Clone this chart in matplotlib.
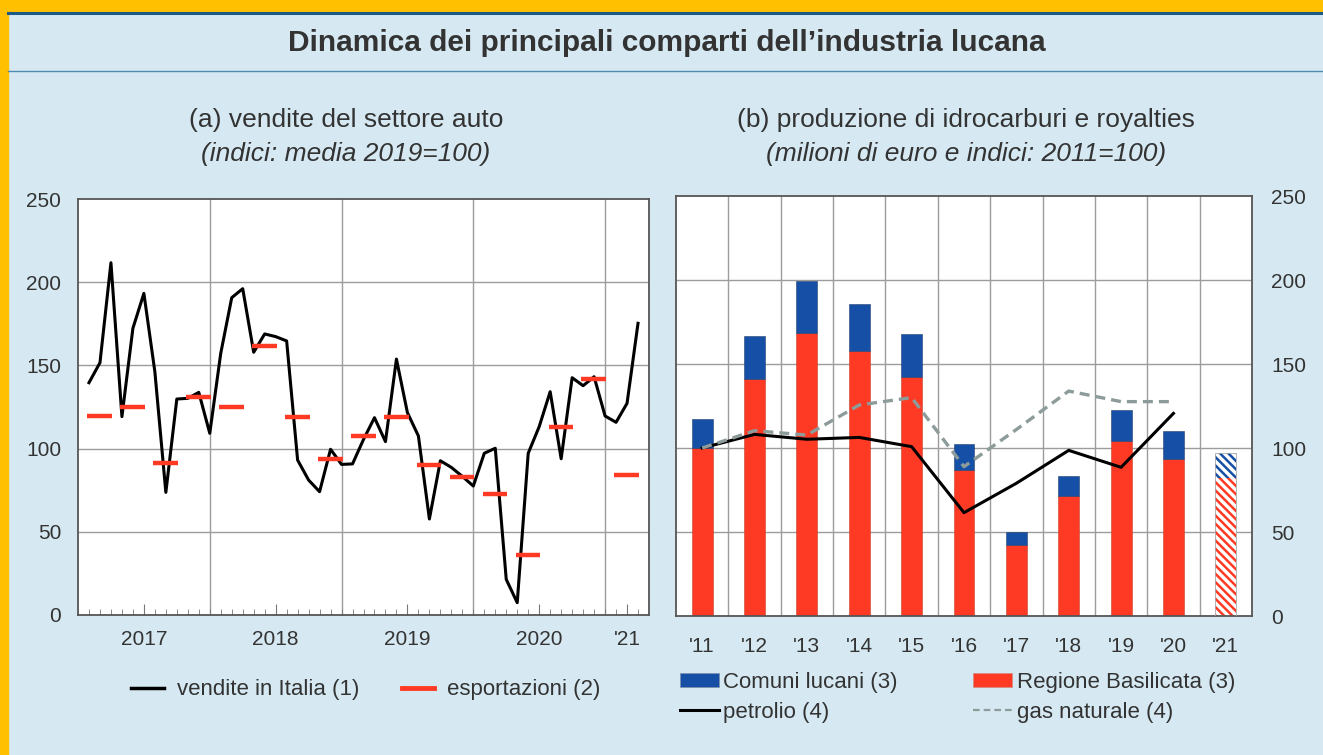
import matplotlib
matplotlib.use("Agg")
import matplotlib.pyplot as plt
from matplotlib.patches import Rectangle, Patch
from matplotlib.lines import Line2D
import numpy as np

plt.rcParams["font.family"] = ["Liberation Sans", "DejaVu Sans"]
plt.rcParams["hatch.linewidth"] = 1.8

# (a) vendite del settore auto, mensili gen 2017 - mar 2021
vendite_italia = [139.6, 151.6, 211.7, 119.2, 172.3, 193.3, 146.2, 73.7, 129.8, 130.2,
                  133.8, 109.2, 157.3, 190.7, 196.1, 157.9, 168.9, 167.3, 164.7, 93.1,
                  81.1, 74.1, 99.6, 90.5, 90.8, 105.5, 118.6, 104.2, 153.8, 121.6,
                  107.6, 57.7, 92.7, 88.7, 83.3, 77.5, 97.2, 100.2, 21.4, 7.4,
                  97.2, 113.2, 134.2, 93.9, 142.6, 137.8, 143.2, 119.6, 115.8, 127.2,
                  175.3]
# esportazioni, trimestrali T1 2017 - T1 2021
esportazioni = [119.8, 124.8, 91.1, 131.2, 125.2, 161.9, 119.2, 93.6, 107.8, 118.8,
                90.1, 82.7, 72.9, 36.3, 113.2, 141.8, 84.1]
anni_a = ["2017", "2018", "2019", "2020", "'21"]

# (b) produzione di idrocarburi e royalties
anni_b = ["'11", "'12", "'13", "'14", "'15", "'16", "'17", "'18", "'19", "'20", "'21"]
regione = [100.2, 141.3, 168.7, 157.9, 142.3, 86.9, 42.5, 71.4, 104.0, 93.3, 82.1]
comuni = [16.9, 25.4, 30.5, 27.8, 25.4, 15.7, 7.3, 12.1, 18.6, 16.8, 14.7]
petrolio = [100.0, 108.1, 105.2, 106.3, 100.8, 61.5, 79.0, 98.6, 88.5, 120.6]
gas_naturale = [100.0, 110.3, 107.7, 125.6, 130.0, 88.9, 111.0, 133.9, 127.6, 127.6]

RED = "#ff3a24"
BLUE = "#1650a6"
BG = "#d6e9f2"
TXT = "#333333"
GRID = "#9c9c9c"

W, H = 1323, 755
fig = plt.figure(figsize=(W / 100, H / 100), dpi=100, facecolor=BG)


def fx(px):
    return px / W


def fy(py):
    return 1 - py / H


# cornice
fig.patches.append(Rectangle((0, 0), fx(8), 1, transform=fig.transFigure,
                             color="#ffc000", zorder=0))
fig.patches.append(Rectangle((0, fy(11)), 1, 11 / H, transform=fig.transFigure,
                             color="#ffc000", zorder=0))
fig.add_artist(Line2D([fx(8), 1], [fy(13), fy(13)], color="#1b5a86", lw=2.2))
fig.add_artist(Line2D([fx(8), 1], [fy(71), fy(71)], color="#4f89ad", lw=1.0))

fig.text(fx(667), fy(43), "Dinamica dei principali comparti dell\u2019industria lucana",
         ha="center", va="center", fontsize=21.5, fontweight="bold", color=TXT)

fig.text(fx(346), fy(120), "(a) vendite del settore auto", ha="center", va="center",
         fontsize=19, color=TXT)
fig.text(fx(346), fy(154), "(indici: media 2019=100)", ha="center", va="center",
         fontsize=19, style="italic", color=TXT)
fig.text(fx(966), fy(120), "(b) produzione di idrocarburi e royalties", ha="center",
         va="center", fontsize=19, color=TXT)
fig.text(fx(966), fy(154), "(milioni di euro e indici: 2011=100)", ha="center",
         va="center", fontsize=19, style="italic", color=TXT)

# ---- pannello (a)
ax1 = fig.add_axes([fx(78), fy(615), fx(649 - 78), (615 - 199) / H])
ax1.set_facecolor("white")
mesi = np.arange(1, len(vendite_italia) + 1)
ax1.plot(mesi, vendite_italia, color="black", lw=2.2, zorder=3)
for q, v in enumerate(esportazioni):
    ax1.hlines(v, 3 * q + 0.85, 3 * q + 3.1, color=RED, lw=3.2, zorder=4)
ax1.set_xlim(0, 52)
ax1.set_ylim(0, 250)
ax1.set_yticks([0, 50, 100, 150, 200, 250])
for y in [50, 100, 150, 200]:
    ax1.axhline(y, color=GRID, lw=1, zorder=1)
for x in [12, 24, 36, 48]:
    ax1.axvline(x, color=GRID, lw=1, zorder=1)
ax1.set_xticks([6, 18, 30, 42, 50])
ax1.set_xticklabels(anni_a)
ax1.set_xticks([m for m in mesi if m not in (6, 18, 30, 42, 50)], minor=True)
ax1.tick_params(axis="x", which="major", direction="in", length=8, color="#777777",
                labelsize=15, labelcolor=TXT, pad=11)
ax1.tick_params(axis="x", which="minor", direction="in", length=4, color="#777777")
ax1.tick_params(axis="y", length=0, labelsize=15, labelcolor=TXT, pad=12)
for s in ax1.spines.values():
    s.set_color("#555555")
    s.set_linewidth(1.3)

fig.legend(handles=[Line2D([], [], color="black", lw=2.5),
                    Line2D([], [], color=RED, lw=3.5)],
           labels=["vendite in Italia (1)", "esportazioni (2)"],
           loc="center", bbox_to_anchor=(fx(366), fy(690)), ncol=2, frameon=False,
           fontsize=16, handlelength=1.45, handletextpad=0.6, columnspacing=1.9,
           labelcolor=TXT)

# ---- pannello (b)
ax2 = fig.add_axes([fx(676), fy(616), fx(1252 - 676), (616 - 196) / H])
ax2.set_facecolor("white")
pos = np.arange(len(anni_b))
n = len(anni_b) - 1
ax2.bar(pos[:n], regione[:n], width=0.4, color=RED, edgecolor="#c8402c", lw=0.4, zorder=2)
ax2.bar(pos[:n], comuni[:n], width=0.4, bottom=regione[:n], color=BLUE,
        edgecolor="#243f6e", lw=0.4, zorder=2)
ax2.bar(pos[n], regione[n], width=0.4, color="white", edgecolor=RED, lw=0,
        hatch="\\\\\\\\", zorder=2)
ax2.bar(pos[n], comuni[n], width=0.4, bottom=regione[n], color="white", edgecolor=BLUE,
        lw=0, hatch="\\\\\\\\", zorder=2)
ax2.bar(pos[n], regione[n] + comuni[n], width=0.4, fill=False, edgecolor="#aaaaaa",
        lw=0.6, zorder=3)
ax2.plot(pos[:len(petrolio)], petrolio, color="black", lw=2.2, zorder=4)
ax2.plot(pos[:len(gas_naturale)], gas_naturale, color="#8d9c9b", lw=2.4,
         dashes=(3, 1.8), zorder=4)
ax2.set_xlim(-0.5, len(anni_b) - 0.5)
ax2.set_ylim(0, 250)
for y in [50, 100, 150, 200]:
    ax2.axhline(y, color=GRID, lw=1, zorder=1)
for x in pos[:-1] + 0.5:
    ax2.axvline(x, color=GRID, lw=1, zorder=1)
ax2.set_xticks(pos)
ax2.set_xticklabels(anni_b)
ax2.set_yticks([0, 50, 100, 150, 200, 250])
ax2.yaxis.tick_right()
ax2.tick_params(axis="x", length=0, labelsize=15, labelcolor=TXT, pad=15)
ax2.tick_params(axis="y", length=0, labelsize=15, labelcolor=TXT, pad=14)
for s in ax2.spines.values():
    s.set_color("#555555")
    s.set_linewidth(1.3)

fig.legend(handles=[Patch(facecolor=BLUE, edgecolor="#7f8fa8", lw=0.5),
                    Line2D([], [], color="black", lw=2.2),
                    Patch(facecolor=RED, edgecolor="#d08a80", lw=0.5),
                    Line2D([], [], color="#8d9c9b", lw=1.6, dashes=(3, 1.8))],
           labels=["Comuni lucani (3)", "petrolio (4)", "Regione Basilicata (3)",
                   "gas naturale (4)"],
           loc="upper left", bbox_to_anchor=(fx(680), fy(672)), ncol=2, frameon=False,
           fontsize=16, handlelength=1.75, handleheight=0.6, handletextpad=0.2,
           columnspacing=3.4, labelspacing=0.4, borderpad=0, borderaxespad=0,
           labelcolor=TXT)

fig.savefig("out.png", dpi=100, facecolor=BG)
